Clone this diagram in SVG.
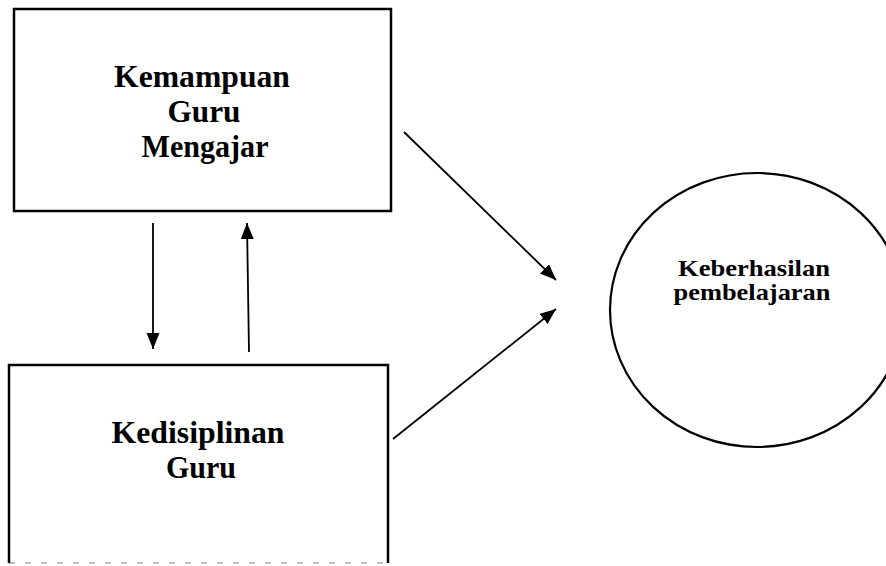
<svg xmlns="http://www.w3.org/2000/svg" width="886" height="566" viewBox="0 0 886 566">
<style>
.box{fill:none;stroke:#000;stroke-width:2.5}
.lbl{font-family:"Liberation Serif","Times New Roman",serif;font-weight:bold;font-size:31px;fill:#000;text-anchor:middle}
.sm{font-size:23px}
.conn{stroke:#000;stroke-width:1.8;fill:none;marker-end:url(#ah)}
</style>
<defs>
<marker id="ah" markerUnits="userSpaceOnUse" markerWidth="17" markerHeight="14" refX="16" refY="6.5" orient="auto">
<path d="M0,0 L16,6.5 L0,13 z" fill="#000"/>
</marker>
</defs>
<rect width="886" height="566" fill="#fff"/>
<g id="kemampuan">
<rect class="box" x="14" y="9" width="377" height="202"/>
<text class="lbl" x="202" y="87" textLength="176" lengthAdjust="spacingAndGlyphs">Kemampuan</text>
<text class="lbl" x="204" y="122" textLength="73" lengthAdjust="spacingAndGlyphs">Guru</text>
<text class="lbl" x="205" y="157" textLength="127" lengthAdjust="spacingAndGlyphs">Mengajar</text>
</g>
<g id="kedisiplinan">
<path class="box" d="M388,563 V365 H9 V563"/>
<line x1="9" y1="563" x2="388" y2="563" stroke="#000" stroke-width="1" stroke-dasharray="6 10" opacity="0.5"/>
<text class="lbl" x="198" y="443" textLength="173" lengthAdjust="spacingAndGlyphs">Kedisiplinan</text>
<text class="lbl" x="201" y="478" textLength="70" lengthAdjust="spacingAndGlyphs">Guru</text>
</g>
<g id="keberhasilan">
<ellipse cx="757" cy="310" rx="147" ry="137" fill="none" stroke="#000" stroke-width="2.2"/>
<text class="lbl sm" x="754" y="276" textLength="152" lengthAdjust="spacingAndGlyphs">Keberhasilan</text>
<text class="lbl sm" x="752" y="300" textLength="157" lengthAdjust="spacingAndGlyphs">pembelajaran</text>
</g>
<g id="connectors">
<line class="conn" x1="153" y1="223" x2="153" y2="349"/>
<line class="conn" x1="249" y1="352" x2="247" y2="223"/>
<line class="conn" x1="404" y1="132" x2="556" y2="280"/>
<line class="conn" x1="393" y1="439" x2="556" y2="309"/>
</g>
</svg>
